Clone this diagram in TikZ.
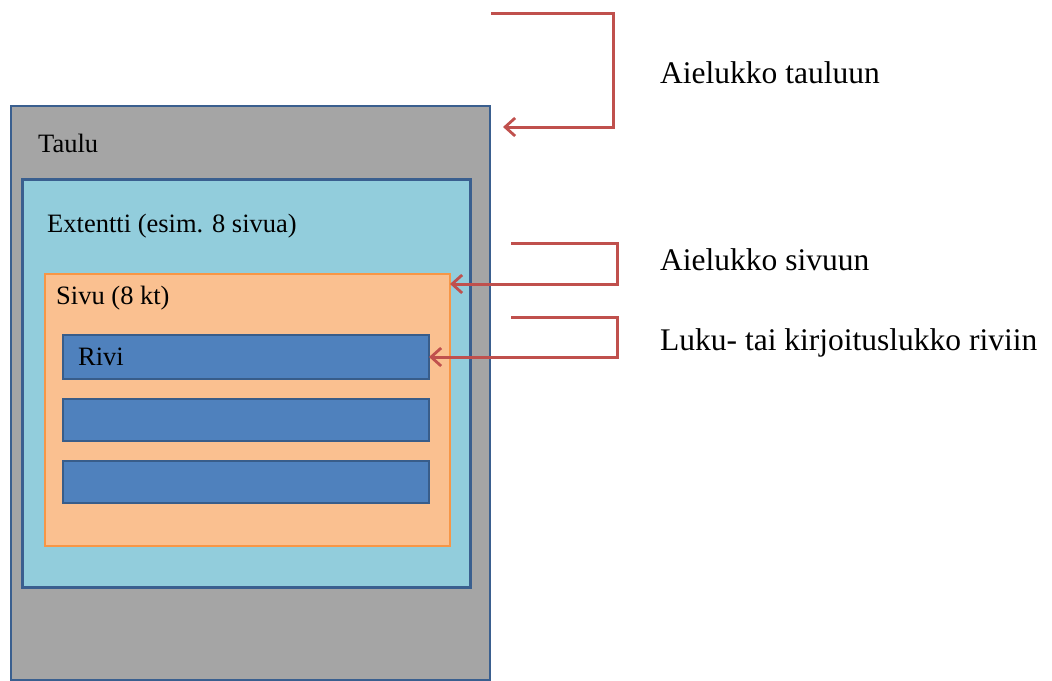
\documentclass[tikz,border=0pt]{standalone}
\usepackage{fontspec}
\setmainfont{Liberation Serif}
\usetikzlibrary{arrows.meta}
\definecolor{taulugray}{HTML}{A5A5A5}
\definecolor{darkblue}{HTML}{3A5F8F}
\definecolor{extblue}{HTML}{92CDDC}
\definecolor{sivufill}{HTML}{FAC090}
\definecolor{sivuborder}{HTML}{F79646}
\definecolor{rivifill}{HTML}{4F81BD}
\definecolor{riviborder}{HTML}{385D8A}
\definecolor{lockred}{HTML}{C0504D}
\tikzset{
  box/.style={rectangle, anchor=north west, inner sep=0pt, outer sep=0pt},
  taulubox/.style={box, fill=taulugray, draw=darkblue, line width=2.5pt},
  extbox/.style={box, fill=extblue, draw=darkblue, line width=3pt},
  sivubox/.style={box, fill=sivufill, draw=sivuborder, line width=1.5pt},
  rivibox/.style={box, fill=rivifill, draw=riviborder, line width=2pt},
  lbl/.style={anchor=west, inner sep=0pt, font=\fontsize{26.5}{30}\selectfont},
  rlbl/.style={anchor=west, inner sep=0pt, font=\fontsize{31.5}{36}\selectfont},
  lockarrow/.style={draw=lockred, line width=3pt, -{Straight Barb[length=10pt,width=18pt,line width=2.8pt]}}
}
\begin{document}
\begin{tikzpicture}[x=1pt,y=-1pt]
\useasboundingbox (0,0) rectangle (1052,680);
\node[taulubox, minimum width=479pt, minimum height=574pt] (taulu) at (11,106) {};
\node[extbox, minimum width=448pt, minimum height=408pt] (ext) at (22,179) {};
\node[sivubox, minimum width=405pt, minimum height=272pt] (sivu) at (45,274) {};
\node[rivibox, minimum width=366pt, minimum height=44pt] (rivi1) at (63,335) {};
\node[rivibox, minimum width=366pt, minimum height=42pt] (rivi2) at (63,399) {};
\node[rivibox, minimum width=366pt, minimum height=42pt] (rivi3) at (63,461) {};

\node[lbl] (tlbl) at (38,143) {Taulu};
\node[lbl] (elbl) at (47,226) {Extentti (esim. 8 sivua)};
\node[lbl] (slbl) at (56,298) {Sivu (8 kt)};
\node[lbl] (rlbl1) at (78,357) {Rivi};

\node[rlbl] (l1) at (660,73) {Aielukko tauluun};
\node[rlbl] (l2) at (660,260) {Aielukko sivuun};
\node[rlbl] (l3) at (660,343) {Luku- tai kirjoituslukko riviin};

\coordinate (s1) at (491,13);
\coordinate (c1) at (613,13);
\coordinate (e1) at (503,127);
\coordinate (s2) at (511,243);
\coordinate (c2) at (617,243);
\coordinate (s3) at (511,317);
\coordinate (c3) at (617,317);

\draw[lockarrow] (s1) -- (c1) |- (e1);
\draw[lockarrow] (s2) -- (c2) |- ([yshift=-10pt]sivu.north east);
\draw[lockarrow] (s3) -- (c3) |- (rivi1.east);
\end{tikzpicture}
\end{document}
